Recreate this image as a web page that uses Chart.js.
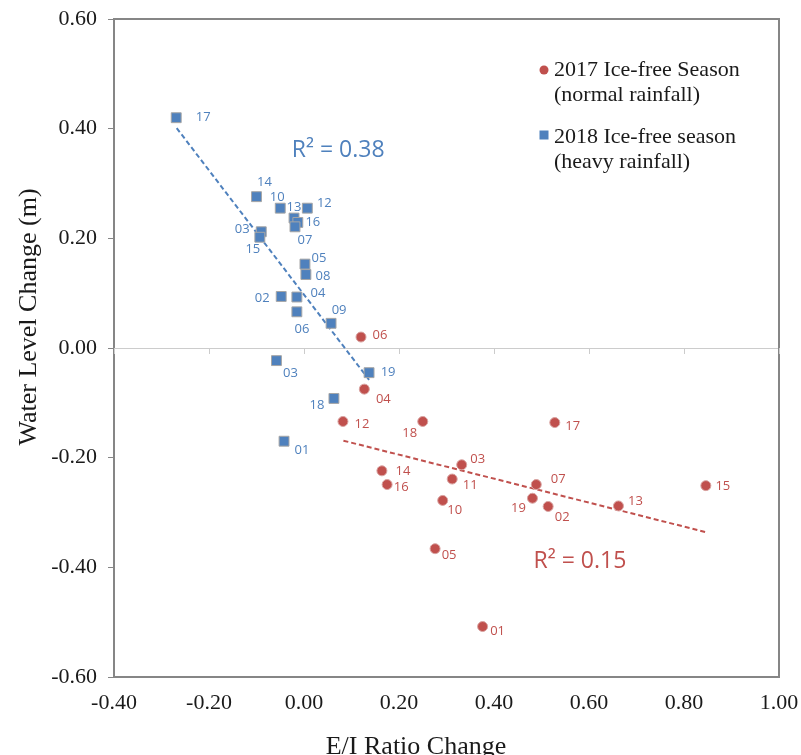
<!DOCTYPE html>
<html>
<head>
<meta charset="utf-8">
<script src="https://cdn.jsdelivr.net/npm/chart.js@4.4.1/dist/chart.umd.min.js"></script>
<style>
  html, body { margin: 0; padding: 0; background: #fff; }
  #wrap { width: 801px; height: 755px; }
</style>
</head>
<body>
<div id="wrap"><canvas id="canvas" width="801" height="755"></canvas></div>
<script>
// 2017 ice-free season (normal rainfall)
var labels2017 = ['06', '04', '12', '14', '16', '18', '17', '03', '11', '07', '10', '19', '02', '13', '15', '05', '01'];
var x2017 = [0.120, 0.127, 0.082, 0.164, 0.175, 0.250, 0.528, 0.332, 0.312, 0.489, 0.292, 0.481, 0.514, 0.662, 0.846, 0.276, 0.376];
var y2017 = [0.020, -0.075, -0.134, -0.224, -0.249, -0.134, -0.136, -0.213, -0.239, -0.249, -0.278, -0.274, -0.289, -0.288, -0.251, -0.366, -0.508];

// 2018 ice-free season (heavy rainfall)
var labels2018 = ['17', '14', '10', '12', '13', '16', '07', '03', '15', '05', '08', '02', '04', '06', '09', '03', '19', '18', '01'];
var x2018 = [-0.269, -0.100, -0.050, 0.007, -0.021, -0.013, -0.019, -0.090, -0.093, 0.002, 0.004, -0.048, -0.015, -0.015, 0.057, -0.058, 0.137, 0.063, -0.042];
var y2018 = [0.420, 0.276, 0.255, 0.255, 0.237, 0.229, 0.221, 0.212, 0.202, 0.153, 0.134, 0.094, 0.093, 0.066, 0.045, -0.023, -0.045, -0.092, -0.170];

// linear trend lines (end points)
var trend2017X = [0.083, 0.847];
var trend2017Y = [-0.169, -0.336];
var trend2018X = [-0.268, 0.137];
var trend2018Y = [0.401, -0.058];

var r2Text2017 = 'R² = 0.15';
var r2Text2018 = 'R² = 0.38';

// where each point label sits, in px from the marker
var offs2017 = [[19, -2], [19, 10], [19, 3], [21, 0], [14, 3], [-13, 12], [18, 4], [16, -5], [18, 6], [22, -5],
  [12, 10], [-14, 10], [14, 11], [17, -5], [17, 1], [14, 7], [15, 5]];
var offs2018 = [[27, 0], [8, -14], [-3, -11], [17, -5], [0, -11], [15, 0], [10, 13], [-19, -2], [-7, 12], [14, -6],
  [17, 2], [-19, 2], [21, -4], [5, 17], [8, -13], [14, 13], [19, 0], [-17, 7], [18, 9]];

var RED = '#c0504d';
var BLUE = '#4f81bd';
var AXIS = '#868686';
var SERIF = "'Liberation Serif', 'Times New Roman', serif";
var SANS = "'Open Sans', sans-serif";

function pts(xs, ys) {
  return xs.map(function (x, i) { return { x: x, y: ys[i] }; });
}

var extras = {
  id: 'extras',
  afterDatasetsDraw: function (chart) {
    var ctx = chart.ctx;
    var a = chart.chartArea;
    var xs = chart.scales.x, ys = chart.scales.y;
    ctx.save();

    // frame top / right
    ctx.strokeStyle = AXIS;
    ctx.lineWidth = 2;
    ctx.beginPath();
    ctx.moveTo(a.left, a.top);
    ctx.lineTo(a.right, a.top);
    ctx.lineTo(a.right, a.bottom);
    ctx.stroke();

    // small tick marks under the zero line
    var y0 = ys.getPixelForValue(0);
    ctx.strokeStyle = '#cccccc';
    ctx.lineWidth = 1;
    xs.ticks.forEach(function (t) {
      var px = Math.round(xs.getPixelForValue(t.value)) + 0.5;
      ctx.beginPath();
      ctx.moveTo(px, y0);
      ctx.lineTo(px, y0 + 6);
      ctx.stroke();
    });

    // point labels
    ctx.font = '13px ' + SANS;
    ctx.textAlign = 'center';
    ctx.textBaseline = 'middle';
    function lab(xsArr, ysArr, names, offs, color) {
      ctx.fillStyle = color;
      names.forEach(function (n, i) {
        var px = xs.getPixelForValue(xsArr[i]) + offs[i][0];
        var py = ys.getPixelForValue(ysArr[i]) + offs[i][1];
        ctx.fillText(n, px, py);
      });
    }
    lab(x2017, y2017, labels2017, offs2017, RED);
    lab(x2018, y2018, labels2018, offs2018, BLUE);

    // R² notes
    ctx.font = '23px ' + SANS;
    ctx.fillStyle = BLUE;
    ctx.fillText(r2Text2018, xs.getPixelForValue(0.072), ys.getPixelForValue(0.361));
    ctx.fillStyle = RED;
    ctx.fillText(r2Text2017, xs.getPixelForValue(0.581), ys.getPixelForValue(-0.390));

    // legend
    ctx.font = '22px ' + SERIF;
    ctx.textAlign = 'left';
    ctx.fillStyle = RED;
    ctx.beginPath();
    ctx.arc(544, 70, 4.5, 0, Math.PI * 2);
    ctx.fill();
    ctx.fillStyle = BLUE;
    ctx.fillRect(539.5, 130.5, 9, 9);
    ctx.fillStyle = '#1a1a1a';
    ctx.fillText(chart.data.datasets[0].label[0], 554, 70);
    ctx.fillText(chart.data.datasets[0].label[1], 554, 95);
    ctx.fillText(chart.data.datasets[1].label[0], 554, 137);
    ctx.fillText(chart.data.datasets[1].label[1], 554, 162);

    // axis titles
    ctx.font = '26px ' + SERIF;
    ctx.textAlign = 'center';
    ctx.fillText('E/I Ratio Change', 416, 747);
    ctx.translate(29, 317);
    ctx.rotate(-Math.PI / 2);
    ctx.fillText('Water Level Change (m)', 0, 0);
    ctx.restore();
  }
};

new Chart(document.getElementById('canvas').getContext('2d'), {
  type: 'scatter',
  data: {
    datasets: [{
      label: ['2017 Ice-free Season', '(normal rainfall)'],
      data: pts(x2017, y2017),
      pointStyle: 'circle',
      pointRadius: 5,
      backgroundColor: RED,
      borderColor: '#d8a3a1',
      borderWidth: 1,
      order: 1
    }, {
      label: ['2018 Ice-free season', '(heavy rainfall)'],
      data: pts(x2018, y2018),
      pointStyle: 'rect',
      pointRadius: 7,
      backgroundColor: BLUE,
      borderColor: '#a6a6a6',
      borderWidth: 1,
      order: 1
    }, {
      label: 'trend 2017',
      data: pts(trend2017X, trend2017Y),
      showLine: true,
      pointRadius: 0,
      borderColor: RED,
      borderWidth: 2,
      borderDash: [5, 3],
      order: 2
    }, {
      label: 'trend 2018',
      data: pts(trend2018X, trend2018Y),
      showLine: true,
      pointRadius: 0,
      borderColor: BLUE,
      borderWidth: 2,
      borderDash: [5, 3],
      order: 2
    }]
  },
  options: {
    responsive: false,
    animation: false,
    layout: { padding: { top: 19, right: 22, left: 0, bottom: 0 } },
    plugins: {
      legend: { display: false },
      tooltip: { enabled: false }
    },
    scales: {
      x: {
        type: 'linear',
        min: -0.4,
        max: 1.0,
        afterFit: function (s) { s.height = 78; s.paddingLeft = 0; s.paddingRight = 0; },
        afterBuildTicks: function (s) {
          s.ticks = [-0.4, -0.2, 0, 0.2, 0.4, 0.6, 0.8, 1.0].map(function (v) { return { value: v }; });
        },
        ticks: {
          padding: 13,
          color: '#1a1a1a',
          font: { family: SERIF, size: 22 },
          maxRotation: 0,
          callback: function (v) { return v.toFixed(2); }
        },
        grid: { display: false, drawTicks: false },
        border: { display: true, color: AXIS, width: 2 }
      },
      y: {
        type: 'linear',
        min: -0.6,
        max: 0.6,
        afterFit: function (s) { s.width = 114; s.paddingTop = 0; s.paddingBottom = 0; },
        afterBuildTicks: function (s) {
          s.ticks = [-0.6, -0.4, -0.2, 0, 0.2, 0.4, 0.6].map(function (v) { return { value: v }; });
        },
        ticks: {
          padding: 11,
          color: '#1a1a1a',
          font: { family: SERIF, size: 22 },
          callback: function (v) { return v.toFixed(2); }
        },
        grid: {
          drawTicks: true,
          tickLength: 6,
          tickColor: AXIS,
          lineWidth: 1,
          color: function (c) { return c.tick && Math.abs(c.tick.value) < 1e-9 ? '#cccccc' : 'rgba(0,0,0,0)'; }
        },
        border: { display: true, color: AXIS, width: 2 }
      }
    }
  },
  plugins: [extras]
});
</script>
</body>
</html>
